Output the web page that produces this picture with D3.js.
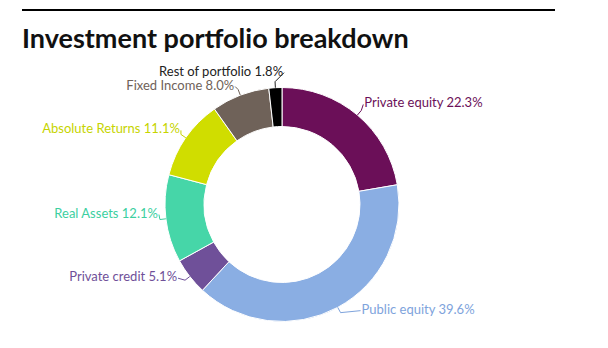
<!DOCTYPE html>
<html><head><meta charset="utf-8">
<script src="https://cdn.jsdelivr.net/npm/d3@7"></script>
<style>
html,body{margin:0;padding:0;background:#fff;}
svg{display:block;font-family:Lato,"Open Sans",sans-serif;}
</style></head>
<body>
<svg id="c" width="608" height="348"></svg>
<script>
const categories = ["Private equity","Public equity","Private credit","Real Assets","Absolute Returns","Fixed Income","Rest of portfolio"];
const values = [22.3, 39.6, 5.1, 12.1, 11.1, 8.0, 1.8];
const colors = ["#6b0f58","#8aaee3","#6f5099","#46d6a8","#d0dd00","#6f6259","#000000"];
const labelColors = ["#6b0f58","#7ea3dc","#6f5099","#3ccf9f","#c6d400","#6f6259","#222222"];
// label nudges (layout only)
const nudges = [[-1,-3],[17,1],[-4,1],[2,-2],[3,-1],[0,0],[12,-6]];

const svg = d3.select("#c");
svg.append("rect").attr("x",22).attr("y",9).attr("width",533).attr("height",2).attr("fill","#000");
svg.append("text").attr("x",22).attr("y",48).attr("font-size",27).attr("font-weight",700)
  .attr("fill","#111").text("Investment portfolio breakdown");

const cx = 282, cy = 204.5, R = 117, r0 = 78;
const data = categories.map((c,i)=>({name:c,value:values[i],color:colors[i],lc:labelColors[i],nudge:nudges[i]}));
const pie = d3.pie().value(d=>d.value).sort(null);
const arcs = pie(data);
const arc = d3.arc().innerRadius(r0).outerRadius(R);
const g = svg.append("g").attr("transform",`translate(${cx},${cy})`);
g.selectAll("path.s").data(arcs).join("path").attr("class","s")
  .attr("d",arc).attr("fill",d=>d.data.color).attr("stroke","#fff").attr("stroke-width",1);

const pt = (a,rr)=>[Math.sin(a)*rr, -Math.cos(a)*rr];
arcs.forEach(d=>{
  const a = (d.startAngle+d.endAngle)/2;
  const right = Math.sin(a) > 0;
  const e = pt(a,R), el = pt(a,123);
  const tx = el[0] + (right?4:-4) + d.data.nudge[0];
  const ty = el[1] + d.data.nudge[1];
  const lx = tx + (right?-1:1);
  g.append("path").attr("d",d3.line()([e,el,[lx,ty-3]]))
    .attr("fill","none").attr("stroke",d.data.lc).attr("stroke-width",1);
  g.append("text").attr("x",tx).attr("y",ty).attr("text-anchor",right?"start":"end")
    .attr("font-size",13).attr("fill",d.data.lc)
    .text(`${d.data.name} ${d.data.value.toFixed(1)}%`);
});
</script>
</body></html>
